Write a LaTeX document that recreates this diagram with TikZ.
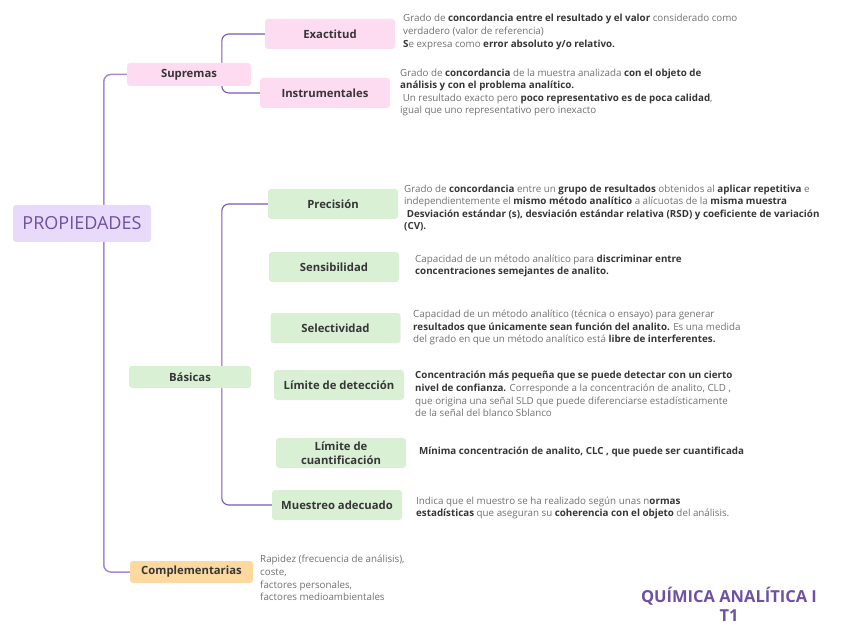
\documentclass[tikz,border=0pt]{standalone}
\usepackage{fontspec}
\setmainfont{Open Sans}
\usepackage{xcolor}
\usetikzlibrary{positioning, backgrounds}

\definecolor{lila}{HTML}{E9D9FB}
\definecolor{rosa}{HTML}{FDDCF2}
\definecolor{verde}{HTML}{D9F0D5}
\definecolor{naranja}{HTML}{FDD9A0}
\definecolor{moradoclaro}{HTML}{A68BD4}
\definecolor{morado}{HTML}{7B56B6}
\definecolor{titulo}{HTML}{6F51A3}
\definecolor{txtgris}{HTML}{707070}
\definecolor{txtoscuro}{HTML}{363636}

\newcommand{\resal}[1]{\textcolor{txtoscuro}{\bfseries #1}}

\begin{document}
\begin{tikzpicture}[
    x=1pt, y=-1pt,
    box/.style={rounded corners=3pt, inner sep=1pt, align=center,
        text=txtoscuro, font=\fontsize{11.3}{13.5}\selectfont\bfseries},
    hijo/.style={box, minimum width=130pt, minimum height=30pt},
    rama/.style={box, minimum height=23pt},
    desc/.style={anchor=west, align=left, inner sep=0pt, text=txtgris,
        font=\fontsize{9.8}{12.6}\selectfont},
    tronco/.style={draw=moradoclaro, line width=1.5pt, rounded corners=7pt},
    linea/.style={draw=morado, line width=1.1pt, rounded corners=7pt}
]
    \useasboundingbox (0,0) rectangle (848,636);

    % Raiz
    \node[box, fill=lila, minimum width=138pt, minimum height=37pt, text=titulo,
        font=\fontsize{18}{21}\selectfont] (propiedades) at (82,223.5) {PROPIEDADES};

    % Ramas principales
    \node[rama, fill=rosa, minimum width=124pt] (supremas) at (189,74.5) {Supremas};
    \node[rama, fill=verde, minimum width=122pt, minimum height=22pt] (basicas) at (190,377) {Básicas};
    \node[rama, fill=naranja, minimum width=123pt, minimum height=22pt] (complementarias) at (191.5,572) {Complementarias};

    % Supremas
    \node[hijo, fill=rosa] (exactitud) at (330,34) {Exactitud};
    \node[hijo, fill=rosa] (instrumentales) at (325,93) {Instrumentales};

    % Basicas
    \node[hijo, fill=verde] (precision) at (333,204) {Precisión};
    \node[hijo, fill=verde] (sensibilidad) at (334,267) {Sensibilidad};
    \node[hijo, fill=verde] (selectividad) at (335.5,328) {Selectividad};
    \node[hijo, fill=verde] (limdet) at (339,385) {Límite de detección};
    \node[hijo, fill=verde] (limcuant) at (341,453) {Límite de\\cuantificación};
    \node[hijo, fill=verde] (muestreo) at (337,505) {Muestreo adecuado};

    % Textos
    \node[desc] (dexact) at (403,32) {Grado de \resal{concordancia entre el resultado y el valor} considerado como\\
        verdadero (valor de referencia)\\
        \resal{S}e expresa como \resal{error absoluto y/o relativo.}};
    \node[desc] (dinstr) at (400,92.5) {Grado de \resal{concordancia} de la muestra analizada \resal{con el objeto de}\\
        \resal{análisis y con el problema analítico.}\\
        \ Un resultado exacto pero \resal{poco representativo es de poca calidad},\\
        igual que uno representativo pero inexacto};
    \node[desc] (dprec) at (404,208) {Grado de \resal{concordancia} entre un \resal{grupo de resultados} obtenidos al \resal{aplicar repetitiva} e\\
        independientemente el \resal{mismo método analítico} a alícuotas de la \resal{misma muestra}\\
        \resal{\ Desviación estándar (s), desviación estándar relativa (RSD) y coeficiente de variación}\\
        \resal{(CV).}};
    \node[desc] (dsens) at (415,266) {Capacidad de un método analítico para \resal{discriminar entre}\\
        \resal{concentraciones semejantes de analito.}};
    \node[desc] (dselec) at (413,327.5) {Capacidad de un método analítico (técnica o ensayo) para generar\\
        \resal{resultados que únicamente sean función del analito.} Es una medida\\
        del grado en que un método analítico está \resal{libre de interferentes.}};
    \node[desc] (dlimdet) at (415,394) {\resal{Concentración más pequeña que se puede detectar con un cierto}\\
        \resal{nivel de confianza.} Corresponde a la concentración de analito, CLD ,\\
        que origina una señal SLD que puede diferenciarse estadísticamente\\
        de la señal del blanco Sblanco};
    \node[desc] (dlimcuant) at (419,452) {\resal{Mínima concentración de analito, CLC , que puede ser cuantificada}};
    \node[desc] (dmuestreo) at (416,508) {Indica que el muestro se ha realizado según unas n\resal{ormas}\\
        \resal{estadísticas} que aseguran su \resal{coherencia con el objeto} del análisis.};
    \node[desc] (dcompl) at (260,578) {Rapidez (frecuencia de análisis),\\
        coste,\\
        factores personales,\\
        factores medioambientales};

    % Titulo
    \node[align=center, text=titulo, font=\fontsize{16.5}{19}\selectfont\bfseries] (titulo) at (729,604.5) {QUÍMICA ANALÍTICA I\\T1};

    % Conectores
    \begin{scope}[on background layer]
        \draw[tronco] (supremas.west) -- ++(-23,0) |- (complementarias.west);
        \draw[linea] (exactitud.west) -- ++(-43,0) |- (instrumentales.west);
        \draw[linea] (precision.west) -- ++(-46,0) |- (muestreo.west);
    \end{scope}
\end{tikzpicture}
\end{document}
